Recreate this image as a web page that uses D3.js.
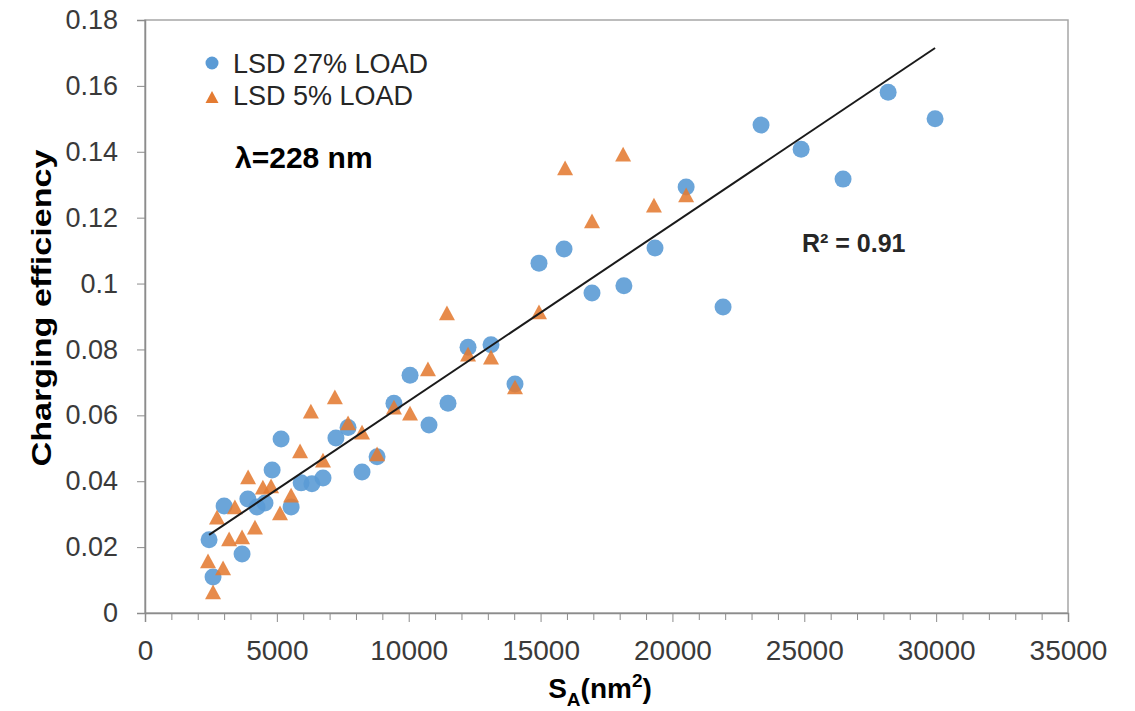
<!DOCTYPE html>
<html>
<head>
<meta charset="utf-8">
<script src="https://cdn.jsdelivr.net/npm/d3@7"></script>
<style>
  body { margin: 0; background: #fff; }
  text { font-family: "Liberation Sans", Arial, sans-serif; }
</style>
</head>
<body>
<div id="vis"></div>
<script>
// LSD 27% LOAD (circles)
const blueX = [2430, 2580, 3000, 3680, 3900, 4250, 4550, 4820, 5160, 5540, 5920, 6330, 6750, 7240, 7700, 8230, 8800, 9440, 10050, 10770, 11490, 12250, 13120, 14030, 14940, 15890, 16950, 18160, 19340, 20520, 21920, 23360, 24880, 26470, 28180, 29960];
const blueY = [0.0222, 0.0109, 0.0325, 0.0179, 0.0346, 0.0322, 0.0334, 0.0434, 0.0528, 0.0322, 0.0395, 0.0392, 0.0410, 0.0531, 0.0563, 0.0428, 0.0474, 0.0637, 0.0722, 0.0571, 0.0637, 0.0807, 0.0814, 0.0695, 0.1062, 0.1105, 0.0971, 0.0993, 0.1108, 0.1293, 0.0929, 0.1481, 0.1408, 0.1317, 0.1581, 0.1500];

// LSD 5% LOAD (triangles)
const orangeX = [2580, 2390, 2960, 2730, 3190, 3410, 3680, 4170, 3910, 4470, 4780, 5120, 5540, 5880, 6290, 6750, 7200, 7700, 8230, 8800, 9440, 10050, 10730, 11450, 12250, 13120, 14030, 14940, 15930, 16950, 18130, 19300, 20520];
const orangeY = [0.0064, 0.0158, 0.0137, 0.0291, 0.0225, 0.0322, 0.0231, 0.0261, 0.0413, 0.0382, 0.0386, 0.0304, 0.0358, 0.0492, 0.0613, 0.0464, 0.0656, 0.0577, 0.0549, 0.0483, 0.0625, 0.0607, 0.0741, 0.0911, 0.0786, 0.0777, 0.0686, 0.0914, 0.1351, 0.1190, 0.1393, 0.1238, 0.1269];

// linear trendline end points
const trendX = [2430, 29960];
const trendY = [0.0237, 0.1715];

const xTicks = [0, 5000, 10000, 15000, 20000, 25000, 30000, 35000];
const yTicks = [0, 0.02, 0.04, 0.06, 0.08, 0.1, 0.12, 0.14, 0.16, 0.18];
const seriesNames = ["LSD 27% LOAD", "LSD 5% LOAD"];

const W = 1135, H = 711;
const margin = {top: 20, right: 67, bottom: 98, left: 145};
const blue = "#5b9bd5", orange = "#e47b32";

const svg = d3.select("#vis").append("svg")
  .attr("width", W)
  .attr("height", H);

svg.append("rect").attr("width", W).attr("height", H).attr("fill", "#fff");

const x = d3.scaleLinear().domain([0, 35000]).range([margin.left, W - margin.right]);
const y = d3.scaleLinear().domain([0, 0.18]).range([H - margin.bottom, margin.top]);

// plot frame
svg.append("rect")
  .attr("x", x(0)).attr("y", y(0.18))
  .attr("width", x(35000) - x(0)).attr("height", y(0) - y(0.18))
  .attr("fill", "none").attr("stroke", "#a6a6a6").attr("stroke-width", 1.5);

// minor x ticks
const minorTicks = d3.range(0, 35001, 1000).filter(v => v % 5000 !== 0);
svg.append("g")
  .attr("transform", `translate(0,${y(0)})`)
  .call(d3.axisBottom(x).tickValues(minorTicks).tickSize(7).tickFormat(""))
  .call(g => g.select(".domain").remove())
  .call(g => g.selectAll("line").attr("stroke", "#8c8c8c"));

const xAxis = svg.append("g")
  .attr("transform", `translate(0,${y(0)})`)
  .call(d3.axisBottom(x).tickValues(xTicks).tickSize(9).tickPadding(18).tickFormat(d3.format("d")));
xAxis.select(".domain").attr("stroke", "#8c8c8c").attr("stroke-width", 1.5);
xAxis.selectAll("line").attr("stroke", "#8c8c8c");
xAxis.selectAll("text").attr("font-size", 28).attr("fill", "#3a3a3a")
  .attr("font-family", "Liberation Sans, Arial, sans-serif");

const yAxis = svg.append("g")
  .attr("transform", `translate(${x(0)},0)`)
  .call(d3.axisLeft(y).tickValues(yTicks).tickSize(8).tickPadding(19).tickFormat(d => d === 0 ? "0" : String(+d.toFixed(2))));
yAxis.select(".domain").attr("stroke", "#8c8c8c").attr("stroke-width", 1.5);
yAxis.selectAll("line").attr("stroke", "#8c8c8c");
yAxis.selectAll("text").attr("font-size", 27).attr("fill", "#3a3a3a")
  .attr("font-family", "Liberation Sans, Arial, sans-serif");

// markers
function triPath(s) {
  const h = s * 0.92;
  return `M0,${-h / 2}L${s / 2},${h / 2}L${-s / 2},${h / 2}Z`;
}

const blueData = blueX.map((v, i) => ({x: v, y: blueY[i]}));
const orangeData = orangeX.map((v, i) => ({x: v, y: orangeY[i]}));

svg.append("g").selectAll("circle").data(blueData).join("circle")
  .attr("cx", d => x(d.x)).attr("cy", d => y(d.y))
  .attr("r", 8.5)
  .attr("fill", blue).attr("fill-opacity", 0.9);

svg.append("g").selectAll("path").data(orangeData).join("path")
  .attr("transform", d => `translate(${x(d.x)},${y(d.y)})`)
  .attr("d", triPath(16))
  .attr("fill", orange).attr("fill-opacity", 0.88);

// trendline
svg.append("path")
  .datum(trendX.map((v, i) => [v, trendY[i]]))
  .attr("d", d3.line().x(d => x(d[0])).y(d => y(d[1])))
  .attr("fill", "none").attr("stroke", "#1a1a1a").attr("stroke-width", 2);

// legend
const legend = svg.append("g");
legend.append("circle").attr("cx", 212).attr("cy", 63).attr("r", 6.5).attr("fill", blue);
legend.append("path").attr("transform", "translate(212,97)").attr("d", triPath(13)).attr("fill", orange);
legend.selectAll("text").data(seriesNames).join("text")
  .attr("x", 233).attr("y", (d, i) => 73 + i * 32)
  .attr("font-size", 27).attr("fill", "#262626")
  .text(d => d);

// annotations
svg.append("text")
  .attr("x", 235).attr("y", 168)
  .attr("font-family", "Open Sans, Noto Sans, sans-serif")
  .attr("font-weight", "bold").attr("font-size", 30).attr("fill", "#000")
  .text("λ=228 nm");

svg.append("text")
  .attr("x", 802).attr("y", 252)
  .attr("font-weight", "bold").attr("font-size", 25).attr("fill", "#262626")
  .text("R² = 0.91");

// axis titles
svg.append("text")
  .attr("transform", "translate(51,308) rotate(-90)")
  .attr("text-anchor", "middle")
  .attr("font-weight", "bold").attr("font-size", 28).attr("fill", "#000")
  .attr("textLength", 317).attr("lengthAdjust", "spacingAndGlyphs")
  .text("Charging efficiency");

const xt = svg.append("text")
  .attr("x", 600).attr("y", 698)
  .attr("text-anchor", "middle")
  .attr("font-weight", "bold").attr("font-size", 28).attr("fill", "#000");
xt.append("tspan").text("S");
xt.append("tspan").attr("font-size", 19).attr("dy", 8).text("A");
xt.append("tspan").attr("dy", -8).text("(nm");
xt.append("tspan").attr("font-size", 19).attr("dy", -11).text("2");
xt.append("tspan").attr("dy", 11).text(")");
</script>
</body>
</html>
